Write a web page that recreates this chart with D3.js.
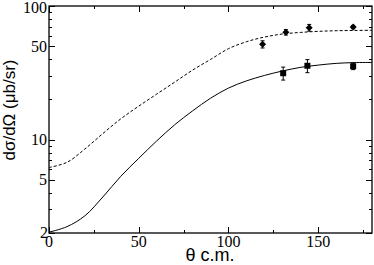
<!DOCTYPE html>
<html>
<head>
<meta charset="utf-8">
<script src="https://cdn.jsdelivr.net/npm/d3@7"></script>
<style>
  body { margin: 0; background: #fff; }
  svg { display: block; }
</style>
</head>
<body>
<div id="chart"></div>
<script>
// curves
let curveTheta = [0, 10, 20, 30, 40, 50, 60, 70, 80, 90, 100, 110, 120, 130, 140, 150, 160, 170, 180];
let solidValues = [2.03, 2.23, 2.69, 3.72, 5.31, 7.24, 9.77, 12.9, 16.4, 20.4, 24.3, 27.5, 30.2, 32.6, 34.7, 36.1, 37.2, 37.7, 37.8];
let dashedValues = [6.18, 6.76, 8.51, 11.1, 14.3, 17.8, 21.9, 26.9, 33.1, 39.8, 47.9, 54.0, 58.5, 61.7, 63.4, 64.6, 65.3, 65.6, 65.8];

// measured points
let diamondTheta = [119, 132, 145, 169.5];
let diamondValues = [51.7, 63.6, 68.8, 69.6];
let diamondErr = [3.2, 3.0, 4.0, 2.0];

let squareTheta = [130.5, 144, 169.5];
let squareValues = [31.4, 35.7, 35.4];
let squareErr = [3.5, 4.0, 2.0];

let xTicks = [0, 50, 100, 150];
let xMinor = [25, 75, 125, 175];
let yTicks = [2, 5, 10, 50, 100];
let yMinor = [3, 4, 6, 7, 8, 9, 20, 30, 40, 60, 70, 80, 90];

let width = 374;
let height = 265;
let m = { left: 49, right: 372, top: 6, bottom: 233 };
let serif = '"Liberation Serif", "Times New Roman", "DejaVu Serif", serif';
let sans = '"Liberation Sans", Arial, Helvetica, sans-serif';

let svg = d3.select('#chart')
    .append('svg')
    .attr('width', width)
    .attr('height', height);

let x = d3.scaleLinear().domain([0, 180]).range([m.left, m.right]);
let y = d3.scaleLog().domain([2, 100]).range([m.bottom, m.top]);

svg.append('defs').append('clipPath')
    .attr('id', 'clip')
    .append('rect')
    .attr('x', m.left).attr('y', m.top)
    .attr('width', m.right - m.left).attr('height', m.bottom - m.top);

// ticks on all four sides, pointing in
function tickSide(axis, vals, len) {
    let g = svg.append('g').attr('stroke', '#000').attr('stroke-width', 1);
    vals.forEach(function (v) {
        if (axis === 'x') {
            let px = Math.round(x(v)) + 0.5;
            g.append('line').attr('x1', px).attr('x2', px).attr('y1', m.bottom).attr('y2', m.bottom - len);
            g.append('line').attr('x1', px).attr('x2', px).attr('y1', m.top).attr('y2', m.top + len);
        } else {
            let py = Math.round(y(v)) + 0.5;
            g.append('line').attr('x1', m.left).attr('x2', m.left + len).attr('y1', py).attr('y2', py);
            g.append('line').attr('x1', m.right).attr('x2', m.right - len).attr('y1', py).attr('y2', py);
        }
    });
}
tickSide('x', xTicks, 6);
tickSide('x', xMinor, 3);
tickSide('y', yTicks, 6);
tickSide('y', yMinor, 3);

svg.append('rect')
    .attr('x', m.left).attr('y', m.top)
    .attr('width', m.right - m.left).attr('height', m.bottom - m.top)
    .attr('fill', 'none')
    .attr('stroke', '#000')
    .attr('stroke-width', 1.3);

// tick labels
svg.append('g')
    .selectAll('text')
    .data(xTicks)
    .enter()
    .append('text')
    .attr('x', function (d) { return x(d); })
    .attr('y', 246.5)
    .attr('text-anchor', 'middle')
    .attr('font-family', serif)
    .attr('font-size', 16)
    .text(function (d) { return d; });

svg.append('g')
    .selectAll('text')
    .data(yTicks)
    .enter()
    .append('text')
    .attr('x', function (d) { return d === 2 ? m.left - 1 : m.left - 2; })
    .attr('y', function (d) { return d === 100 ? y(d) + 1.5 : y(d); })
    .attr('dy', '0.34em')
    .attr('text-anchor', 'end')
    .attr('font-family', serif)
    .attr('font-size', 16)
    .text(function (d) { return d; });

// axis titles
svg.append('text')
    .attr('x', 210)
    .attr('y', 261)
    .attr('text-anchor', 'middle')
    .attr('font-family', sans)
    .attr('font-size', 18)
    .text('θ c.m.');

svg.append('text')
    .attr('transform', 'translate(15,110) rotate(-90)')
    .attr('text-anchor', 'middle')
    .attr('font-family', sans)
    .attr('font-size', 17)
    .text('dσ/dΩ (μb/sr)');

// curves
let line = d3.line()
    .x(function (d) { return x(d[0]); })
    .y(function (d) { return y(d[1]); })
    .curve(d3.curveCatmullRom.alpha(0.5));

let plot = svg.append('g').attr('clip-path', 'url(#clip)');

plot.append('path')
    .attr('d', line(d3.zip(curveTheta, solidValues)))
    .attr('fill', 'none')
    .attr('stroke', '#000')
    .attr('stroke-width', 1);

plot.append('path')
    .attr('d', line(d3.zip(curveTheta, dashedValues)))
    .attr('fill', 'none')
    .attr('stroke', '#000')
    .attr('stroke-width', 1)
    .attr('stroke-dasharray', '3,2');

// error bars
function errorBars(thetas, vals, errs) {
    let g = svg.append('g').attr('stroke', '#000').attr('stroke-width', 1);
    thetas.forEach(function (t, i) {
        let px = x(t);
        let y1 = y(vals[i] + errs[i]);
        let y2 = y(vals[i] - errs[i]);
        g.append('line').attr('x1', px).attr('x2', px).attr('y1', y1).attr('y2', y2);
        g.append('line').attr('x1', px - 2).attr('x2', px + 2).attr('y1', y1).attr('y2', y1);
        g.append('line').attr('x1', px - 2).attr('x2', px + 2).attr('y1', y2).attr('y2', y2);
    });
}
errorBars(diamondTheta, diamondValues, diamondErr);
errorBars(squareTheta, squareValues, squareErr);

svg.append('g')
    .selectAll('path')
    .data(d3.zip(diamondTheta, diamondValues))
    .enter()
    .append('path')
    .attr('transform', function (d) { return 'translate(' + x(d[0]) + ',' + y(d[1]) + ')'; })
    .attr('d', 'M0,-3.5L3.5,0L0,3.5L-3.5,0Z')
    .attr('fill', '#000');

svg.append('g')
    .selectAll('rect')
    .data(d3.zip(squareTheta, squareValues))
    .enter()
    .append('rect')
    .attr('x', function (d) { return x(d[0]) - 3; })
    .attr('y', function (d) { return y(d[1]) - 3; })
    .attr('width', 6)
    .attr('height', 6)
    .attr('fill', '#000');
</script>
</body>
</html>
